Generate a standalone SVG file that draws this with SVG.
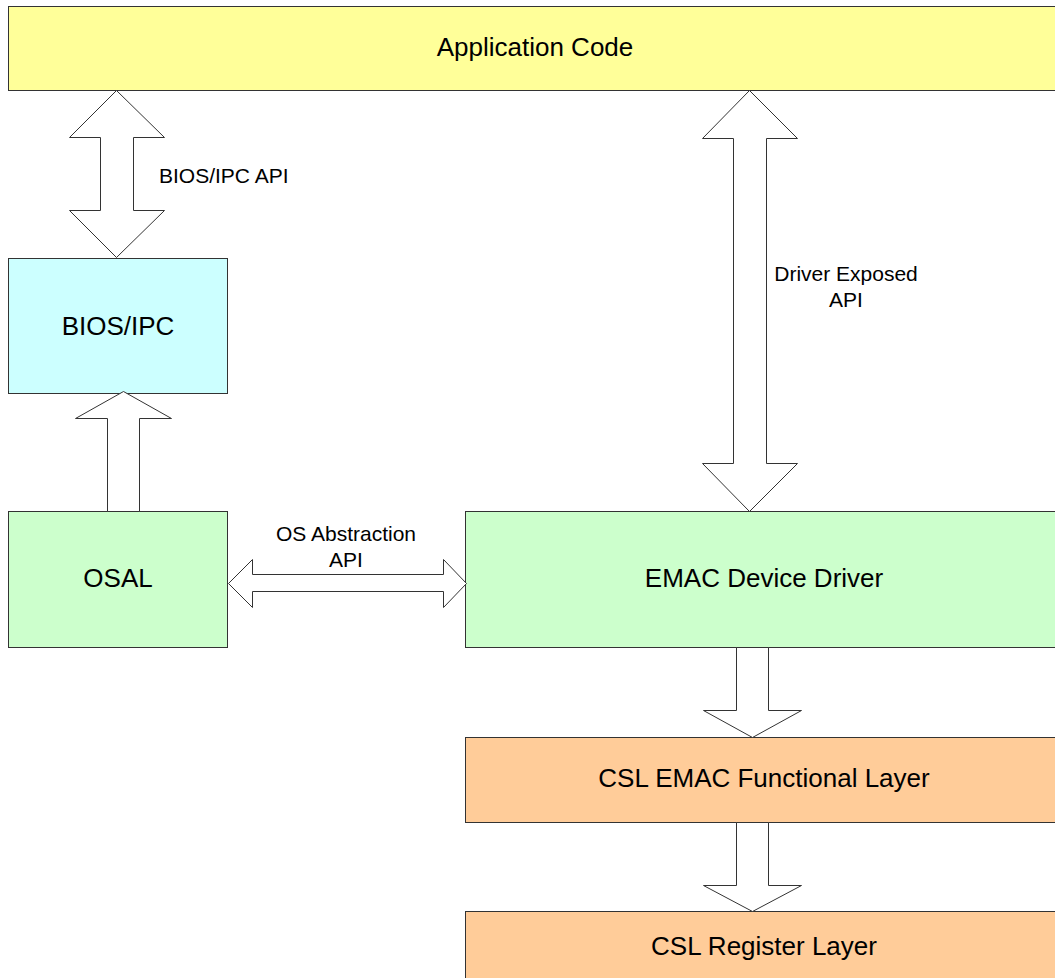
<svg xmlns="http://www.w3.org/2000/svg" width="1055" height="978" viewBox="0 0 1055 978">
  <style>
    .box { stroke: #333333; stroke-width: 1; }
    .app { fill: #FFFF99; }
    .bios { fill: #CCFFFF; }
    .green { fill: #CCFFCC; }
    .csl { fill: #FFCC99; }
    .big { font-family: "Liberation Sans", Arial, sans-serif; font-size: 26px; fill: #000000; text-anchor: middle; }
    .lbl { font-family: "Liberation Sans", Arial, sans-serif; font-size: 21px; fill: #000000; }
    .mid { text-anchor: middle; }
    .arrow { fill: #FFFFFF; stroke: #333333; stroke-width: 1; stroke-linejoin: miter; }
  </style>
  <rect width="1055" height="978" fill="#FFFFFF"/>

  <g id="application-code">
    <rect class="box app" x="8.5" y="6.5" width="1054" height="84"/>
    <text class="big" x="535" y="56">Application Code</text>
  </g>

  <g id="bios-ipc">
    <rect class="box bios" x="8.5" y="258.5" width="219" height="135"/>
    <text class="big" x="118" y="335">BIOS/IPC</text>
  </g>

  <g id="osal">
    <rect class="box green" x="8.5" y="511.5" width="219" height="136"/>
    <text class="big" x="118" y="587">OSAL</text>
  </g>

  <g id="emac-device-driver">
    <rect class="box green" x="465.5" y="511.5" width="597" height="136"/>
    <text class="big" x="764" y="587">EMAC Device Driver</text>
  </g>

  <g id="csl-functional-layer">
    <rect class="box csl" x="465.5" y="737.5" width="597" height="85"/>
    <text class="big" x="764" y="787">CSL EMAC Functional Layer</text>
  </g>

  <g id="csl-register-layer">
    <rect class="box csl" x="465.5" y="911.5" width="597" height="80"/>
    <text class="big" x="764" y="955">CSL Register Layer</text>
  </g>

  <g id="connectors">
    <!-- Application Code <-> BIOS/IPC -->
    <polygon class="arrow" points="116.5,90.5 164.5,137.5 133.5,137.5 133.5,210.5 164.5,210.5 116.5,257.5 69.5,210.5 100.5,210.5 100.5,137.5 69.5,137.5"/>
    <text class="lbl" x="159" y="183">BIOS/IPC API</text>

    <!-- OSAL -> BIOS/IPC -->
    <polygon class="arrow" points="123.5,391.5 171.5,418.5 139.5,418.5 139.5,511.5 107.5,511.5 107.5,418.5 75.5,418.5"/>

    <!-- OSAL <-> EMAC Device Driver -->
    <polygon class="arrow" points="228.5,583.5 252.5,559.5 252.5,574.5 443.5,574.5 443.5,559.5 466.5,583.5 443.5,607.5 443.5,591.5 252.5,591.5 252.5,607.5"/>
    <text class="lbl mid" x="346" y="541">OS Abstraction</text>
    <text class="lbl mid" x="346" y="567">API</text>

    <!-- Application Code <-> EMAC Device Driver -->
    <polygon class="arrow" points="749.5,90.5 797.5,138.5 766.5,138.5 766.5,463.5 797.5,463.5 749.5,511.5 702.5,463.5 733.5,463.5 733.5,138.5 702.5,138.5"/>
    <text class="lbl mid" x="846" y="281">Driver Exposed</text>
    <text class="lbl mid" x="846" y="307">API</text>

    <!-- EMAC Device Driver -> CSL EMAC Functional Layer -->
    <polygon class="arrow" points="736.5,647.5 768.5,647.5 768.5,710.5 801.5,710.5 752.5,737.5 703.5,710.5 736.5,710.5"/>

    <!-- CSL EMAC Functional Layer -> CSL Register Layer -->
    <polygon class="arrow" points="736.5,822.5 768.5,822.5 768.5,885.5 801.5,885.5 752.5,911.5 703.5,885.5 736.5,885.5"/>
  </g>
</svg>
